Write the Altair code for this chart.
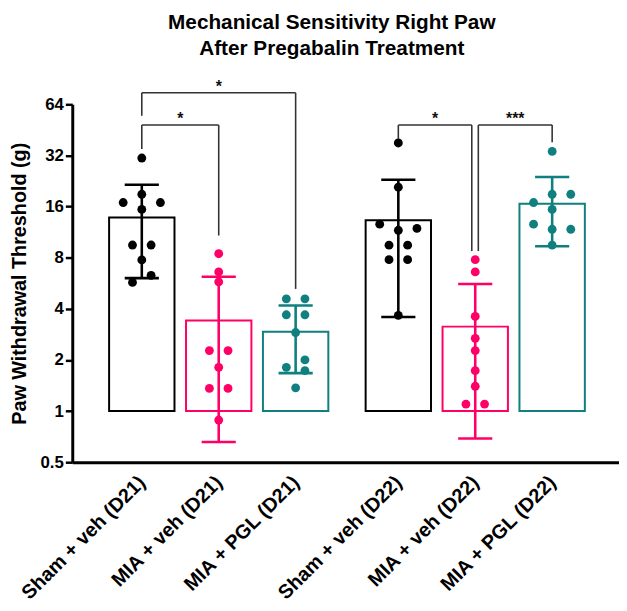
import altair as alt
import pandas as pd

# ---------------- data ----------------
groups = ["Sham + veh (D21)", "MIA + veh (D21)", "MIA + PGL (D21)",
          "Sham + veh (D22)", "MIA + veh (D22)", "MIA + PGL (D22)"]
colors = ["#000000", "#FF0066", "#0F7F7F", "#000000", "#FF0066", "#0F7F7F"]

sham_veh_d21 = [30.9, 18.9, 16.9, 16.9, 15.4, 9.5, 9.5, 7.76, 6.3, 5.72]
mia_veh_d21 = [8.44, 6.6, 5.77, 2.27, 2.27, 1.81, 1.36, 1.36, 0.886]
mia_pgl_d21 = [4.58, 4.58, 3.69, 3.69, 2.90, 2.0, 1.81, 1.73, 1.37]
sham_veh_d22 = [37.9, 20.8, 12.6, 11.9, 11.6, 9.48, 9.48, 7.79, 7.79, 3.66]
mia_veh_d22 = [7.79, 6.6, 3.61, 2.68, 2.27, 1.73, 1.40, 1.10, 1.10]
mia_pgl_d22 = [33.8, 18.9, 18.9, 16.9, 15.4, 12.6, 11.76, 11.76, 9.48]
series = [sham_veh_d21, mia_veh_d21, mia_pgl_d21, sham_veh_d22, mia_veh_d22, mia_pgl_d22]

# significance brackets: (from group, to group, level, left end, right end, label)
brackets = [
    (0, 1, 48.3, 34.9, 10.8, "*"),
    (0, 2, 74.8, 54.8, 5.24, "*"),
    (3, 4, 48.3, 40.0, 8.75, "*"),
    (4, 5, 48.3, 8.75, 38.3, "***"),
]

# ---------------- layout (not data) ----------------
# horizontal scatter slot of each point (Prism-style column scatter)
slots = [
    [0, 0, -2, 2, 0, -1, 1, 0, 1, -1],
    [0, 0, 0, -1, 1, 0, -1, 1, 0],
    [-1, 1, -1, 1, 0, 1, -1, 1, 0],
    [0, 0, -2, 2, 0, -1, 1, -1, 1, 0],
    [0, 0, 0, 0, 0, 0, 0, -1, 1],
    [0, 0, 2, -2, 0, -2, 0, 2, 0],
]
GAP = 0.335          # extra space between the D21 and D22 blocks
SLOT = 0.121         # width of one scatter slot in x units
BAR_HALF = 0.425
CAP_HALF = 0.222
FONT = "Liberation Sans"

def pos(i):
    return i + (GAP if i >= 3 else 0.0)

rows = []
for gi, (vals, sl) in enumerate(zip(series, slots)):
    for v, s in zip(vals, sl):
        rows.append({"group": groups[gi], "gi": gi, "value": v,
                     "pos": pos(gi), "px": pos(gi) + s * SLOT})
pts = pd.DataFrame(rows)

seg_rows, star_rows = [], []
for a, b, lev, le, re_, lab in brackets:
    xa, xb = pos(a), pos(b)
    if a == 4:
        xa += 0.04
    if b == 4:
        xb -= 0.045
    seg_rows += [
        {"x": xa, "x2": xb, "y": lev, "y2": lev},
        {"x": xa, "x2": xa, "y": lev, "y2": le},
        {"x": xb, "x2": xb, "y": lev, "y2": re_},
    ]
    star_rows.append({"x": (xa + xb) / 2, "y": lev, "label": lab})
segs = pd.DataFrame(seg_rows)
stars = pd.DataFrame(star_rows)

# ---------------- scales ----------------
xdom = [-0.904, 6.204]
tick_vals = [pos(i) for i in range(len(groups))]
label_expr = ""
for i, g in enumerate(groups):
    label_expr += f"abs(datum.value - {tick_vals[i]}) < 0.1 ? '{g}' : "
label_expr += "''"

xscale = alt.Scale(domain=xdom, nice=False, zero=False)
yscale = alt.Scale(type="log", base=2, domain=[0.5, 64], nice=False)
cscale = alt.Scale(domain=groups, range=colors)

xaxis = alt.Axis(values=tick_vals, labelExpr=label_expr, title=None, grid=False,
                 ticks=False, domainWidth=3, domainColor="#000000",
                 labelAngle=-45, labelAlign="right", labelBaseline="middle",
                 labelOverlap=False, labelBound=False, labelFlush=False,
                 labelPadding=17, labelFont=FONT, labelFontSize=20,
                 labelFontWeight="bold", labelColor="#000000")
yaxis = alt.Axis(values=[0.5, 1, 2, 4, 8, 16, 32, 64], format="~g",
                 title="Paw Withdrawal Threshold (g)", grid=False,
                 domainWidth=3, domainColor="#000000", tickWidth=2.5,
                 tickSize=7, tickColor="#000000", labelPadding=2,
                 labelOverlap=False, labelFlush=False,
                 labelFont=FONT, labelFontSize=17, labelFontWeight="bold",
                 labelColor="#000000", titleFont=FONT, titleFontSize=20,
                 titleFontWeight="bold", titleColor="#000000", titlePadding=11)

base = alt.Chart(pts)

stats = base.transform_aggregate(
    mean="mean(value)", sd="stdev(value)", groupby=["group", "gi", "pos"]
).transform_calculate(
    lo="datum.mean - datum.sd", hi="datum.mean + datum.sd",
    bl=f"datum.pos - {BAR_HALF}", br=f"datum.pos + {BAR_HALF}",
    cl=f"datum.pos - {CAP_HALF}", cr=f"datum.pos + {CAP_HALF}", one="1"
)

bars = stats.mark_rect(fill="white", strokeWidth=2).encode(
    x=alt.X("bl:Q", scale=xscale, axis=xaxis),
    x2="br:Q",
    y=alt.Y("mean:Q", scale=yscale, axis=yaxis),
    y2=alt.Y2("one:Q"),
    stroke=alt.Stroke("group:N", scale=cscale, legend=None),
)

whisk = stats.mark_rule(strokeWidth=2.6).encode(
    x=alt.X("pos:Q", scale=xscale), y=alt.Y("lo:Q", scale=yscale), y2="hi:Q",
    color=alt.Color("group:N", scale=cscale, legend=None),
)
cap_hi = stats.mark_rule(strokeWidth=2.6).encode(
    x=alt.X("cl:Q", scale=xscale), x2="cr:Q", y=alt.Y("hi:Q", scale=yscale),
    color=alt.Color("group:N", scale=cscale, legend=None),
)
cap_lo = stats.mark_rule(strokeWidth=2.6).encode(
    x=alt.X("cl:Q", scale=xscale), x2="cr:Q", y=alt.Y("lo:Q", scale=yscale),
    color=alt.Color("group:N", scale=cscale, legend=None),
)

points = base.mark_circle(size=80, opacity=1).encode(
    x=alt.X("px:Q", scale=xscale),
    y=alt.Y("value:Q", scale=yscale),
    color=alt.Color("group:N", scale=cscale, legend=None),
)

bracket_lines = alt.Chart(segs).mark_rule(strokeWidth=1.6, color="#333333").encode(
    x=alt.X("x:Q", scale=xscale), x2="x2:Q",
    y=alt.Y("y:Q", scale=yscale), y2="y2:Q",
)
star_text = alt.Chart(stars).mark_text(
    font=FONT, fontSize=16, fontWeight="bold", color="#111111",
    baseline="alphabetic", dy=-1
).encode(
    x=alt.X("x:Q", scale=xscale), y=alt.Y("y:Q", scale=yscale), text="label:N"
)

chart = alt.layer(bars, whisk, cap_hi, cap_lo, points, bracket_lines, star_text).properties(
    width=553, height=362,
    autosize=alt.AutoSizeParams(type="none"),
    padding={"left": 65, "top": 94, "right": 0, "bottom": 140},
    title=alt.TitleParams(
        text=["Mechanical Sensitivity Right Paw", "After Pregabalin Treatment"],
        font=FONT, fontSize=21, fontWeight="bold", color="#000000",
        anchor="middle", frame="group", dx=-14, lineHeight=27, offset=20,
    ),
).configure_view(stroke=None)

chart.save("out.html", embed_options={"renderer": "svg", "actions": False})
